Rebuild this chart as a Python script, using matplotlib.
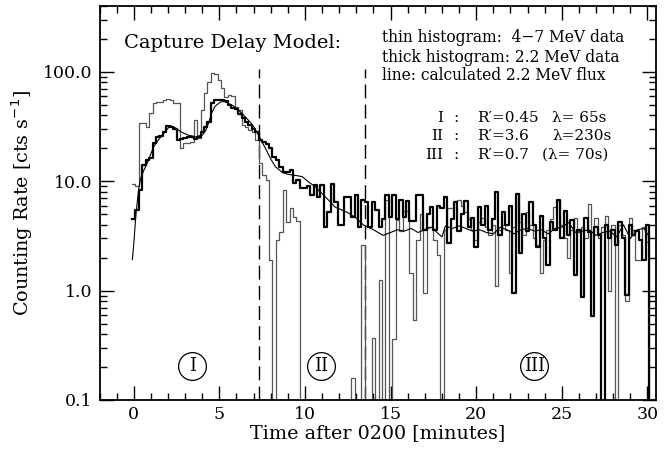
import numpy as np
import matplotlib
matplotlib.use("Agg")
import matplotlib.pyplot as plt
from matplotlib.ticker import FixedLocator, FixedFormatter, NullFormatter

plt.rcParams['font.family'] = ['DejaVu Serif']

# ---- data -------------------------------------------------------------
bin_start = -0.1      # minutes after 0200
bin_width = 0.2       # minutes

# 2.2 MeV line counting rate (thick histogram)
rate_22 = [
    4.5, 5.5, 8.4, 14, 15.7, 16.4, 22.5, 25.5, 26, 28.4,
    32, 31.5, 30, 24, 24.5, 25, 25.5, 25.5, 24.5, 25.5,
    28.4, 31.5, 35, 52, 55, 55, 55, 54, 50, 47,
    46, 41, 38, 35, 33, 30, 28, 24, 23, 22,
    20, 16.7, 15.7, 13.6, 12.2, 12.2, 12.7, 9.7, 10.3, 8.7,
    8.7, 9.0, 7.5, 9.3, 7.2, 9.3, 3.8, 5.2, 9.5, 6.4,
    4.0, 4.0, 7.2, 7.2, 4.7, 7.5, 3.8, 6.8, 6.4, 3.8,
    6.4, 5.5, 3.8, 4.5, 7.5, 4.7, 7.5, 4.5, 6.8, 4.7,
    6.6, 4.3, 4.3, 7.5, 7.5, 3.6, 5.0, 5.8, 3.6, 6.0,
    5.7, 7.2, 2.75, 4.5, 6.4, 3.5, 5.0, 6.6, 3.8, 4.6,
    2.5, 5.8, 4.0, 6.0, 3.6, 4.5, 8.0, 3.2, 5.2, 4.0,
    6.0, 0.96, 7.6, 2.2, 5.0, 3.5, 6.4, 4.0, 2.5, 4.8,
    3.0, 1.7, 4.2, 3.6, 6.8, 3.0, 5.4, 3.2, 4.4, 1.4,
    3.6, 0.88, 4.6, 3.4, 0.58, 3.8, 3.2, 0, 4.0, 3.0,
    3.6, 2.6, 4.2, 3.0, 0.92, 4.0, 3.2, 3.5, 2.9, 1.9, 4.0,
]

# 4-7 MeV counting rate (thin histogram)
rate_47 = [
    9.5, 9.0, 34, 34, 31.5, 42, 52, 53, 53, 55,
    57, 55, 52, 52, 20, 22.5, 22.5, 23, 36, 25,
    45, 64, 80, 98, 96, 85, 71, 59, 62, 60,
    48, 45, 33, 31, 29.5, 28.4, 24, 14.7, 11.4, 10.3,
    1.9, 0, 2.9, 3.4, 8.4, 4.2, 5.7, 4.7, 4.3, 0,
    0, 0, 0, 0, 0, 0, 0, 0, 0, 0,
    0, 0, 0, 0, 0.16, 0, 0, 2.6, 0, 0,
    0.37, 0, 1.26, 0, 6.8, 0, 0.36, 4.4, 3.5, 5.4,
    5.4, 1.46, 0.54, 2.9, 5.0, 0.96, 3.8, 3.8, 2.9, 2.1,
    0, 3.6, 5.7, 5.7, 6.6, 6.8, 6.0, 5.2, 4.5, 3.6,
    2.9, 4.2, 4.6, 3.8, 3.2, 4.0, 1.1, 3.6, 4.0, 3.6,
    1.46, 3.8, 7.8, 4.2, 3.2, 5.2, 4.0, 3.0, 2.6, 1.46,
    2.9, 3.6, 4.5, 5.8, 6.8, 4.0, 3.0, 2.0, 3.6, 4.6,
    3.4, 3.8, 3.0, 6.2, 3.4, 4.6, 3.0, 3.8, 4.8, 1.0,
    4.0, 0, 4.0, 3.2, 0.8, 4.6, 3.6, 1.9, 1.9, 3.8, 2.8,
]

# calculated 2.2 MeV flux (capture delay model)
model_t = [
    -0.08, 0.02, 0.12, 0.22, 0.31, 0.41, 0.6, 0.8, 1.16, 1.45,
    1.69, 2.04, 2.2, 2.4, 2.74, 3.15, 3.61, 4.02, 4.2, 4.37,
    4.55, 4.75, 5.07, 5.3, 5.48, 5.8, 6.11, 6.5, 6.93, 7.28,
    7.69, 8.0, 8.27, 8.68, 9.0, 9.26, 9.6, 9.84, 10.19, 10.6,
    11.18, 11.47, 11.76, 12.46, 13.0, 13.4, 14.0, 14.56, 15.0, 15.4,
    15.8, 16.2, 16.6, 17.0, 17.4, 17.8, 18.0, 18.2, 18.6, 19.0,
    19.4, 19.8, 20.2, 20.6, 21.0, 21.4, 21.8, 22.2, 22.6, 23.0,
    23.4, 23.8, 24.2, 24.6, 25.0, 25.4, 25.8, 26.2, 26.6, 27.0,
    27.4, 27.8, 28.2, 28.6, 29.0, 29.4, 29.8, 30.1,
]
model_rate = [
    1.92, 2.9, 4.8, 6.8, 8.9, 10.7, 12.7, 14.8, 20.6, 24,
    26.5, 31, 32, 31, 28.4, 26.5, 25.5, 26.5, 29, 34,
    42, 48.5, 53, 53.5, 52, 49, 45, 39, 33, 26.5,
    20, 16, 13.6, 12, 11.6, 11.4, 11.2, 11.0, 9.9, 8.9,
    7.2, 6.5, 5.8, 5.2, 4.6, 4.0, 3.6, 3.2, 3.4, 3.6,
    3.5, 3.7, 3.4, 3.6, 3.8, 3.3, 3.1, 3.9, 3.7, 3.9,
    3.7, 3.5, 3.6, 3.4, 3.3, 3.8, 3.6, 3.3, 3.6, 3.7,
    3.5, 3.6, 3.3, 3.7, 3.8, 4.2, 3.4, 3.5, 3.6, 3.2,
    3.4, 3.5, 3.1, 4.0, 3.0, 3.6, 3.7, 3.1,
]

# boundaries between the three phases and their labels
phase_bounds = [7.3, 13.5]
phase_names = ["I", "II", "III"]
phase_label_t = [3.42, 10.94, 23.4]

y_ticks = [0.1, 1.0, 10.0, 100.0]
y_tick_labels = ["0.1", "1.0", "10.0", "100.0"]
x_ticks = [0, 5, 10, 15, 20, 25, 30]

# ---- figure -------------------------------------------------------------
W, H = 666, 459
fig = plt.figure(figsize=(W / 100, H / 100), dpi=100)
ax = fig.add_axes([99.5 / W, 1 - 400 / H, 556.5 / W, 394 / H])
ax.set_yscale('log')
ax.set_xlim(-2, 30.5)
ax.set_ylim(0.1, 400)

floor = 1e-3
edges = bin_start + bin_width * np.arange(len(rate_22) + 1)


def draw_hist(vals, **kw):
    v = np.clip(np.asarray(vals, float), floor, None)
    ax.step(edges, np.r_[v, floor], where='post', **kw)


draw_hist(rate_47, color='#555555', lw=0.9, zorder=2)
draw_hist(rate_22, color='black', lw=1.6, zorder=3)
ax.plot(model_t, model_rate, color='black', lw=0.8, zorder=4)

for tb in phase_bounds:
    ax.axvline(tb, ymin=0, ymax=0.84, color='black', lw=1.0,
               dashes=(10, 4.5), zorder=1)

for name, tl in zip(phase_names, phase_label_t):
    ax.plot(tl, 0.206, 'o', ms=20, mfc='none', mec='black', mew=0.9)
    ax.text(tl, 0.206, name, ha='center', va='center', fontsize=13)

# axes styling
for s in ax.spines.values():
    s.set_linewidth(1.3)
ax.yaxis.set_major_locator(FixedLocator(y_ticks))
ax.yaxis.set_major_formatter(FixedFormatter(y_tick_labels))
minors = [m * 10.0 ** e for e in range(-1, 3) for m in range(2, 10)]
ax.yaxis.set_minor_locator(FixedLocator(minors))
ax.yaxis.set_minor_formatter(NullFormatter())
ax.xaxis.set_major_locator(FixedLocator(x_ticks))
ax.xaxis.set_minor_locator(FixedLocator(np.arange(-2, 31, 1)))
ax.tick_params(which='both', direction='in', top=True, right=True, width=1.0)
ax.tick_params(which='major', length=10, labelsize=12.5)
ax.tick_params(axis='y', which='major', pad=5)
ax.tick_params(axis='x', which='major', pad=4)
ax.tick_params(which='minor', length=5)

ax.set_xlabel('Time after 0200 [minutes]', fontsize=13.8, labelpad=1)
ax.set_ylabel('Counting Rate [cts s$^{-1}$]', fontsize=13.8, labelpad=6)

# annotations
def ftext(x, y, s, **kw):
    fig.text(x / W, 1 - y / H, s, va='center', **kw)

ftext(124, 43, 'Capture Delay Model:', fontsize=14)
ftext(382, 37, 'thin histogram:  4\u22127 MeV data', fontsize=11.2)
ftext(382, 57, 'thick histogram: 2.2 MeV data', fontsize=11.2)
ftext(382, 76, 'line: calculated 2.2 MeV flux', fontsize=11.2)

rows = [("I", "R\u2032=0.45", "\u03bb= 65s", 552),
        ("II", "R\u2032=3.6", "\u03bb=230s", 552),
        ("III", "R\u2032=0.7", "(\u03bb= 70s)", 542)]
for k, (rn, rp, lam, lx) in enumerate(rows):
    yy = 118 + 18.5 * k
    ftext(443, yy, rn, ha='right', fontsize=11)
    ftext(453, yy, ':', fontsize=11)
    ftext(477, yy, rp, fontsize=11)
    ftext(lx, yy, lam, fontsize=11)

fig.savefig('out.png', dpi=100)
